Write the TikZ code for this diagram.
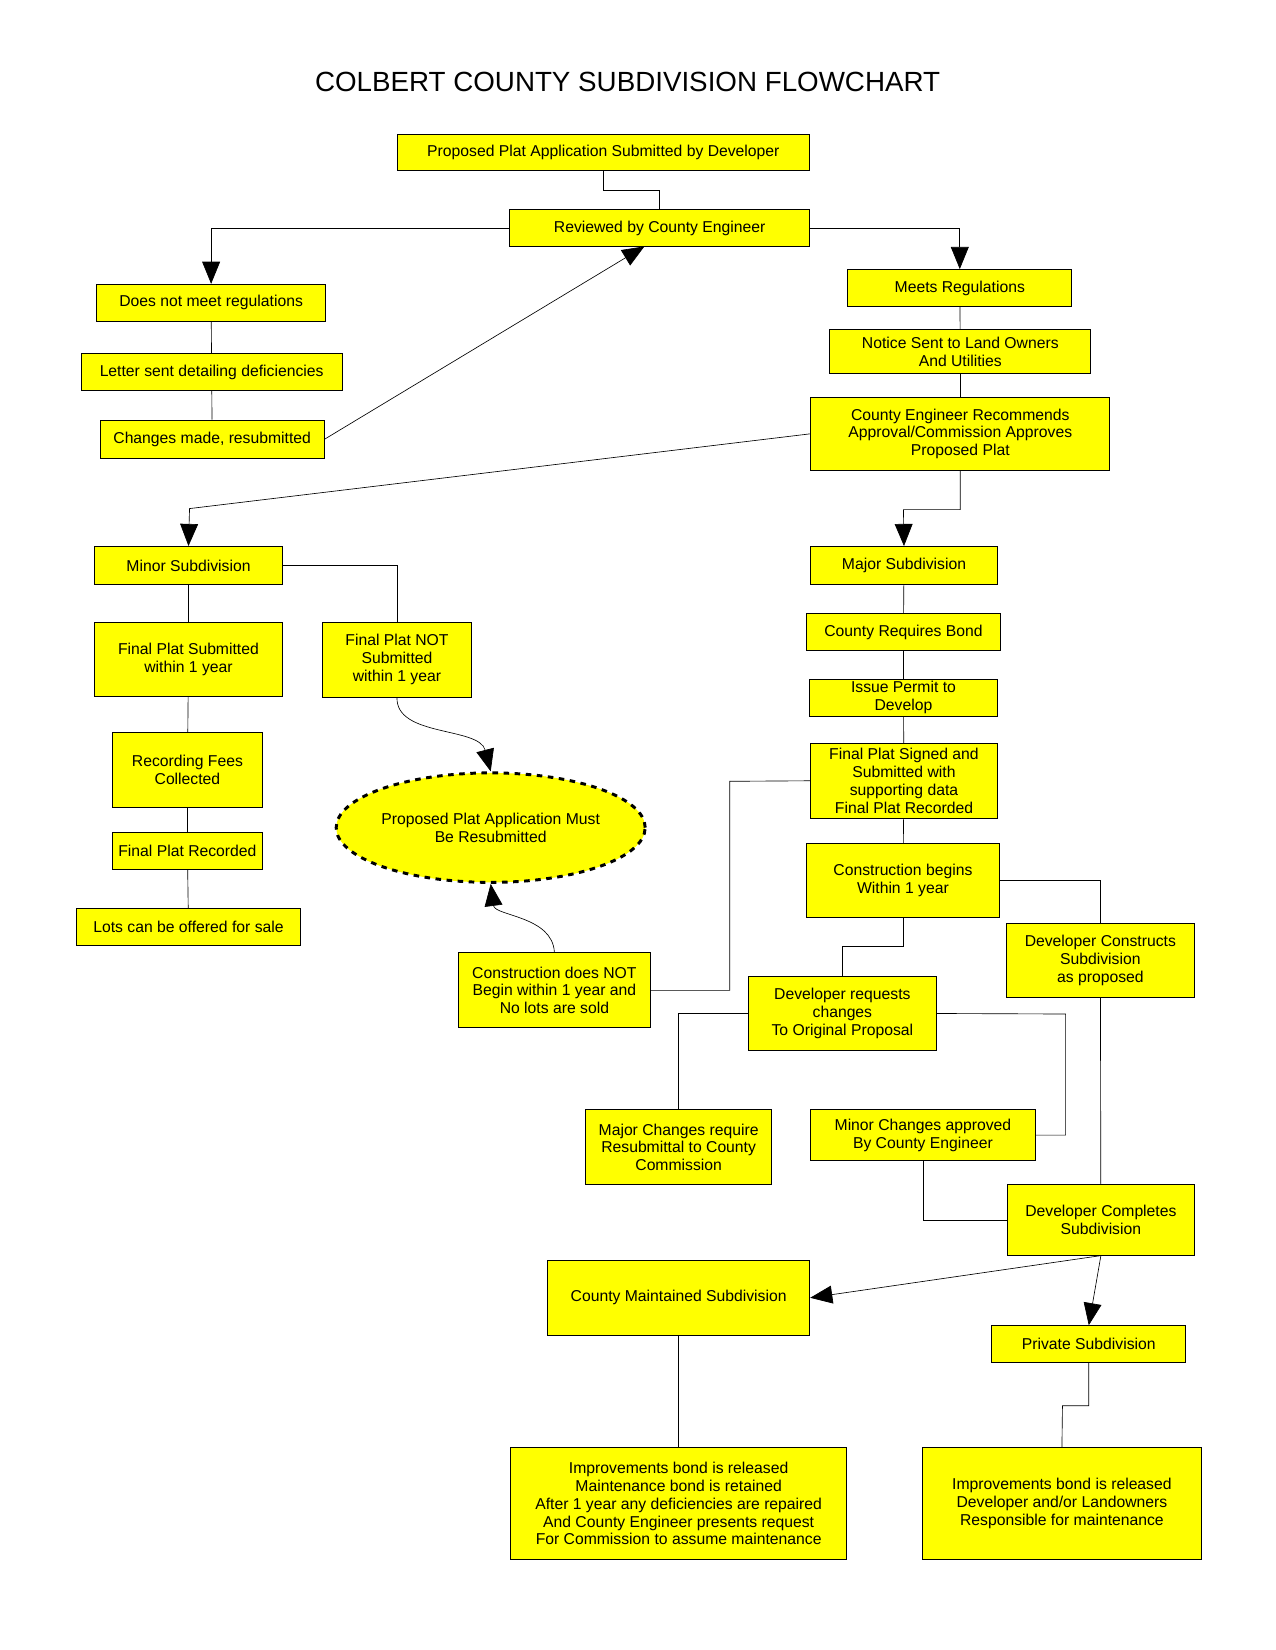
\documentclass[tikz,border=0pt]{standalone}
\usepackage{fontspec}
\setmainfont{Liberation Sans}
\usetikzlibrary{arrows.meta, calc, shapes.geometric}
\definecolor{BoxYellow}{RGB}{255,255,0}
\tikzset{
  box/.style={rectangle, draw, line width=0.5pt, fill=BoxYellow, align=center, inner sep=1pt,
    font=\fontsize{8.5}{9.6}\selectfont},
  link/.style={line width=0.35pt},
  arrow/.style={line width=0.35pt, -{Triangle[length=0.42cm,width=0.34cm]}}
}
% box from its corners in pixels
\newcommand{\flowbox}[6]{\node[box, minimum width={(#4-#2)*0.02cm}, minimum height={(#5-#3)*0.02cm}] (#1) at ({(#2+#4)/2},{(#3+#5)/2}) {#6};}
\begin{document}
\begin{tikzpicture}[x=0.02cm, y=-0.02cm]
\useasboundingbox (0,0) rectangle (1211,1567);
\node[font=\fontsize{15}{18}\selectfont] (title) at (596,78) {COLBERT COUNTY SUBDIVISION FLOWCHART};

% top of the chart
\flowbox{proposed}{377}{128}{769}{162}{Proposed Plat Application Submitted by Developer}
\flowbox{reviewed}{484}{199}{769}{234}{Reviewed by County Engineer}
\flowbox{notmeet}{92}{270}{309}{305}{Does not meet regulations}
\flowbox{letter}{77}{336}{325}{371}{Letter sent detailing deficiencies}
\flowbox{changes}{95}{399}{308}{435}{Changes made, resubmitted}
\flowbox{meets}{805}{256}{1018}{291}{Meets Regulations}
\flowbox{notice}{788}{313}{1036}{355}{Notice Sent to Land Owners\\And Utilities}
\flowbox{recommend}{770}{377}{1054}{447}{County Engineer Recommends\\Approval/Commission Approves\\Proposed Plat}

% minor branch
\flowbox{minor}{90}{519}{268}{555}{Minor Subdivision}
\flowbox{fpsub}{90}{591}{268}{661}{Final Plat Submitted\\within 1 year}
\flowbox{fpnot}{306}{591}{448}{662}{Final Plat NOT\\Submitted\\within 1 year}
\flowbox{fees}{107}{696}{249}{767}{Recording Fees\\Collected}
\flowbox{fprec}{107}{791}{249}{826}{Final Plat Recorded}
\flowbox{lots}{73}{863}{285}{898}{Lots can be offered for sale}
\node[ellipse, draw, line width=1.6pt, dashed, fill=BoxYellow, minimum width=5cm, minimum height=2.08cm,
  align=center, inner sep=0pt, font=\fontsize{8.5}{9.6}\selectfont] (resub) at (466,786)
  {Proposed Plat Application Must\\Be Resubmitted};
\flowbox{nobegin}{435}{905}{618}{976}{Construction does NOT\\Begin within 1 year and\\No lots are sold}

% major branch
\flowbox{major}{770}{519}{947}{555}{Major Subdivision}
\flowbox{bond}{766}{583}{950}{618}{County Requires Bond}
\flowbox{permit}{769}{645}{947}{680}{Issue Permit to\\Develop}
\flowbox{signed}{770}{706}{947}{777}{Final Plat Signed and\\Submitted with\\supporting data\\Final Plat Recorded}
\flowbox{begins}{766}{801}{949}{871}{Construction begins\\Within 1 year}
\flowbox{constructs}{956}{877}{1134}{947}{Developer Constructs\\Subdivision\\as proposed}
\flowbox{requests}{711}{927}{889}{998}{Developer requests\\changes\\To Original Proposal}
\flowbox{majchg}{556}{1054}{733}{1125}{Major Changes require\\Resubmittal to County\\Commission}
\flowbox{minchg}{770}{1054}{983}{1102}{Minor Changes approved\\By County Engineer}
\flowbox{completes}{957}{1125}{1134}{1192}{Developer Completes\\Subdivision}
\flowbox{countymt}{520}{1197}{769}{1268}{County Maintained Subdivision}
\flowbox{private}{942}{1259}{1126}{1294}{Private Subdivision}
\flowbox{imp1}{485}{1375}{804}{1481}{Improvements bond is released\\Maintenance bond is retained\\After 1 year any deficiencies are repaired\\And County Engineer presents request\\For Commission to assume maintenance}
\flowbox{imp2}{876}{1375}{1141}{1481}{Improvements bond is released\\Developer and/or Landowners\\Responsible for maintenance}

% connectors
\draw[link] (proposed.south) -- ++(0,18) -| (reviewed.north);
\draw[arrow] (reviewed.west) -| (notmeet.north);
\draw[arrow] (reviewed.east) -| (meets.north);
\draw[link] (notmeet) -- (letter);
\draw[link] (letter) -- (changes);
\draw[arrow] (changes.east) -- (612,234);
\draw[link] (meets) -- (notice);
\draw[link] (notice) -- (recommend);
\draw[arrow] (recommend.west) -- (180,483) -- (minor.north);
\draw[arrow] (recommend.south) |- (858,484) -- (major.north);
\draw[link] (minor) -- (fpsub);
\draw[link] (minor.east) -| (fpnot.north);
\draw[link] (fpsub) -- (fees);
\draw[link] (fees) -- (fprec);
\draw[link] (fprec) -- (lots);
\draw[arrow] (fpnot.south) .. controls (376,700) and (455,690) .. (resub.north);
\draw[arrow] (nobegin.north) .. controls (525,870) and (470,870) .. (resub.south);
\draw[link] (major) -- (bond);
\draw[link] (bond) -- (permit);
\draw[link] (permit) -- (signed);
\draw[link] (signed) -- (begins);
\draw[link] (signed.west) -- (693,742) |- (nobegin.east);
\draw[link] (begins.east) -| (constructs.north);
\draw[link] (begins.south) |- (800,899) -- (requests.north);
\draw[link] (requests.west) -| (majchg.north);
\draw[link] (requests.east) -- (1012,963) |- (minchg.east);
\draw[link] (minchg.south) |- (completes.west);
\draw[link] (constructs) -- (completes);
\draw[arrow] (completes.south) -- (countymt.east);
\draw[arrow] (completes.south) -- (private.north);
\draw[link] (countymt) -- (imp1);
\draw[link] (private.south) |- (1009,1335) -- (imp2.north);
\end{tikzpicture}
\end{document}
